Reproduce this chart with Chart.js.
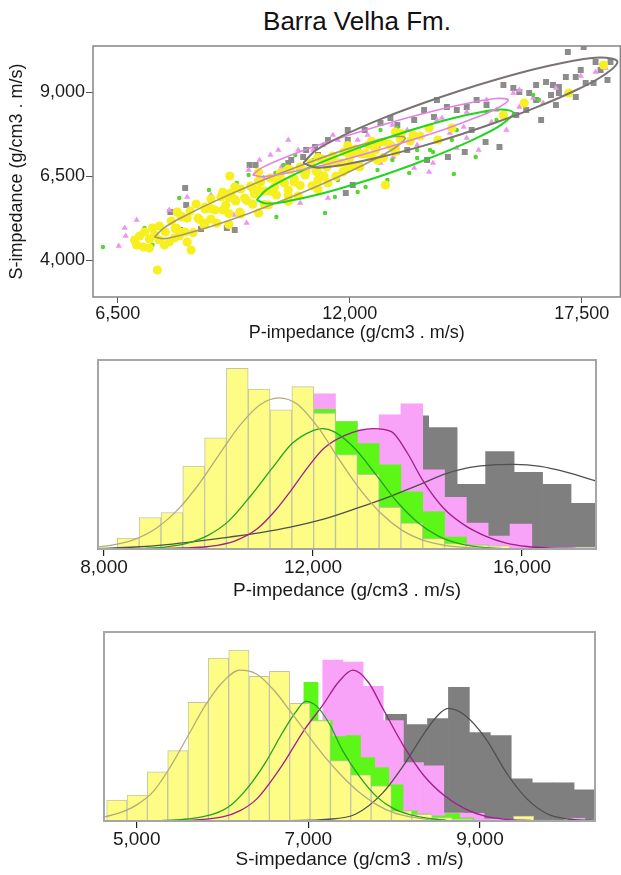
<!DOCTYPE html>
<html>
<head>
<meta charset="utf-8">
<script src="https://cdn.jsdelivr.net/npm/chart.js@4.4.1/dist/chart.umd.min.js"></script>
<style>
  html, body { margin: 0; padding: 0; background: #fff; overflow: hidden; }
  #wrap { position: relative; width: 621px; height: 875px; overflow: hidden; }
  canvas { position: absolute; left: 0; }
  #title { position: absolute; left: 93px; width: 528px; top: 6px; text-align: center;
           font: 26px "Liberation Sans", Arial, sans-serif; color: #111; }
</style>
</head>
<body>
<div id="wrap">
  <div id="title">Barra Velha Fm.</div>
  <canvas id="scatter" width="625" height="350" style="top:0"></canvas>
  <canvas id="histP" width="621" height="260" style="top:350px"></canvas>
  <canvas id="histS" width="621" height="265" style="top:610px"></canvas>
</div>
<script>
// ---------- crossplot (top) : [P-impedance, S-impedance] ----------
const yellowPts = [[6899,4597],[7016,4716],[6946,4448],[7134,4835],[7251,4626],[7110,4388],[7322,4954],[7486,5013],[7627,4835],[7768,5162],[7886,4954],[7439,3704],[8144,4537],[8238,4299],[8027,5281],[8215,5460],[8403,5251],[8356,5668],[8567,5519],[8708,5817],[8802,5489],[8943,5876],[9061,5638],[9178,5995],[9296,5757],[9413,6114],[9507,5847],[9648,6204],[9742,5966],[9883,6323],[9977,6055],[10118,6442],[10212,6174],[10353,6591],[10447,6293],[10588,6680],[10682,6412],[10823,6769],[10941,6531],[11082,6888],[11199,6650],[11340,7007],[11458,6769],[11599,7096],[11716,6888],[11857,7215],[11998,7037],[12139,7305],[12280,7156],[12445,7424],[12609,7275],[12797,7513],[12985,7394],[13197,7602],[13432,7543],[13667,7692],[13878,7930],[12844,6233],[11481,6293],[9155,6501],[15641,8317],[16134,8674],[17192,8971],[18014,9805],[14419,7930],[14090,7573],[12233,6799],[11834,6620],[10071,5638],[10776,5906],[9390,5430],[8708,5222],[7909,5430],[8544,5043],[8097,4835],[9836,6620],[10541,6085],[11246,6382],[12069,6799],[9272,6174],[8990,6025],[12656,6977],[13079,7215],
  [8003,5299],[8567,5579],[9131,5858],[9695,6138],[10259,6415],[10823,6695],[11387,6974],[11951,7254],[12515,7534],[13079,7811],
  [7721,4537],[8285,4814],[8849,5094],[9413,5373],[9977,5650],[10541,5930],[11105,6210],[11669,6489],[12233,6769],[12797,7049],
  [7862,4933],[8426,5213],[8990,5489],[9554,5769],[10118,6049],[10682,6326],[11246,6605],[11810,6885],[12374,7165],[12938,7445],[13502,7721],
  [7251,4359],[7486,4597],[7604,4448],[7956,4716],
  [8144,5248],[8708,5528],[9272,5808],[9836,6088],[10400,6367],[10964,6647],[11528,6924],[12092,7204],[12656,7483],[13220,7763],
  [8003,4823],[8567,5103],[9131,5382],[9695,5662],[10259,5939],[10823,6219],[11387,6498],[11951,6778],[12515,7058],[13079,7335],
  [9836,6355],[10541,6704],[11246,7052],[11951,7403],
  [9131,5055],[9836,5403],[10541,5751],[11246,6099],
  [7369,4745],[7839,4656]];
const pinkPts = [[6523,4418],[6664,4954],[6946,5192],[6687,4716],[7721,5489],[8144,5876],[8708,5936],[8943,6025],[9554,5103],[10118,7126],[10377,6769],[10823,5698],[11481,5847],[10541,7573],[13878,6620],[15053,7275],[16017,9061],[16017,8555],[16346,8823],[17826,9596],[18061,9715],[16581,8674],[15876,8971],[15476,8465],[14701,7959],[14372,7781],[13126,7186],[12727,6888],[13526,6739],[12351,7186],[9860,6977],[11716,7573],[11904,7275],[13032,7067],[13972,6888],[11129,7275],[11364,7424],[12186,7573],[13361,7870],[14066,8168],[14771,8406],[15241,8763],[16886,9120],[17474,9477],[9249,5341],[9954,6442],[14536,7335],
  [10776,7275],[11599,7721],[12421,7721],[13009,8019],[13596,7424],[14184,8227],[14771,7632],[15359,8108],[15711,7870],[10306,7275],[9601,6680]];
const greenPts = [[6147,4388],[7322,4448],[7956,5847],[8191,5400],[10259,5281],[11411,5400],[9084,5579],[9319,6293],[10706,7126],[10236,6591],[14466,6561],[14983,7067],[12374,6174],[11646,5876],[13972,7215],[13408,6591],[13902,7275],[15241,8406],[16346,8912],[16487,8763],[12727,7870],[13126,7930],[12186,6025],[10071,6085],[11246,6531],[11951,6680],[10776,6233],[13009,6977],[14419,7573],[11129,6977],[9601,6531],[13596,7037],[7134,4954],[8661,6085],
  [10424,6829],[11716,6382],[12656,6680],[13596,7275],[14536,7870],[15476,8168],[12891,6382]];
const grayPts = [[8097,6144],[7745,5430],[7980,4894],[8473,4924],[9272,4894],[9084,4954],[9625,6829],[9766,6829],[10612,6977],[10894,7067],[11904,5995],[14325,7067],[15547,7364],[15218,7513],[8121,5638],[10541,6888],[10964,7275],[11176,7364],[11481,7573],[11951,7573],[12069,6233],[17168,10191],[17544,10340],[15876,9120],[16017,9001],[16252,8971],[16416,9209],[16651,9299],[16816,9209],[16957,9150],[17121,9447],[17356,9447],[17474,9656],[17591,9269],[17779,9269],[17944,9656],[18108,9358],[17356,8852],[16957,8971],[14724,7215],[15641,9209],[15241,8614],[14771,8555],[14301,8555],[14066,8763],[13761,8465],[13526,8168],[13996,8257],[12962,8227],[12727,8079],[12351,7870],[11951,7870],[17826,9894],[18179,9894],[16181,8465],[14889,7870],[13361,7275],[12656,7424],[16416,8763],[16769,8912],
  [11246,7126],[12186,7275],[13126,8019],[14536,8465],[15006,8763],[15946,8317],[16534,8168],[13831,6977],[16886,8614]];

// outlines of the class ellipses, read around the picture
const ellYellow = [[7369,4686],[7604,4966],[8074,5305],[8779,5739],[9602,6198],[10354,6582],[11129,6951],[11952,7308],[12657,7567],[13080,7677],[13315,7632],[13080,7349],[12657,7043],[11952,6605],[11129,6147],[10354,5748],[9602,5388],[8779,5031],[8074,4769],[7604,4638],[7369,4686]];
const ellGreen = [[9790,5787],[10025,6091],[10542,6457],[11364,6927],[12187,7332],[12892,7641],[13597,7924],[14419,8215],[15124,8406],[15594,8483],[15876,8376],[15594,8031],[15124,7704],[14419,7299],[13597,6888],[12892,6570],[12187,6284],[11364,5986],[10542,5754],[10025,5680],[9790,5787]];
const ellPink = [[9696,6534],[9931,6757],[10448,7046],[11247,7415],[11952,7706],[12727,8004],[13479,8269],[14302,8531],[15007,8718],[15477,8808],[15759,8760],[15477,8504],[15007,8248],[14302,7918],[13479,7579],[12727,7290],[11952,7016],[11247,6790],[10448,6576],[9931,6483],[9696,6534]];
const ellGray = [[10894,6885],[11200,7269],[11834,7701],[12774,8215],[13714,8659],[14607,9040],[15477,9373],[16417,9691],[17239,9915],[17944,10031],[18344,9897],[17944,9441],[17239,8986],[16417,8543],[15477,8099],[14607,7730],[13714,7391],[12774,7079],[11834,6832],[11200,6751],[10894,6885]];

const topXTicks = [6500, 12000, 17500];
const topYTicks = [4000, 6500, 9000];

// ---------- P-impedance histogram ----------
const pBinX = [8046,8464,8881,9299,9716,10134,10551,10969,11386,11804,12221,12639,13056,13474,13891,14309,14726,15144,15561,15979,16396,16814,17231];
const pYellow = [1,11,31.7,36.7,83.3,111.7,181.7,160.7,140,163.3,136.7,95,75,42,26,10.5,5.5,4,3.3,0,1.3,0,2];
const pGreen = [1,0.5,2,6,14,28,50,80,105,125,140.5,128,106,84.5,57.5,37.5,12,4,1,0,0,0,0];
const pPink = [0,0,0,0,1,3,10,25,50,95,156,128,120,135,146,79.5,52,26,13,25,1.3,1.3,0.5];
const pGrayBinX = [8491,9036,9581,10126,10671,11216,11761,12306,12851,13396,13941,14486,15031,15576,16121,16666,17211];
const pGray = [0.5,1,2,3,5,8,15,25,40,60,134,122,65,98,77,65,46];

const pCurveYellowX = [7800,8200,8600,9000,9400,9800,10200,10600,11000,11350,11700,12100,12500,12900,13300,13700,14100,14500,14900,15300,15700];
const pCurveYellowY = [1.6,4.3,10,20.9,38.8,64.1,94.5,124.2,145.5,152,145.5,122,90,60,36,19,9,4,1.6,0.6,0.2];
const pCurveGreenX = [8000,8400,8800,9200,9600,10000,10400,10800,11200,11600,12000,12180,12400,12800,13200,13600,14000,14400,14800,15200,15600];
const pCurveGreenY = [0.1,0.2,0.7,2.2,5.9,14,28.8,53,80,106,119,121,118,101,75,48,27,13,5.4,1.9,0.6];
const pCurveMagX = [9000,9500,10000,10500,10926,11300,11567,11900,12203,12600,13150,13500,13800,14100,14500,14900,15300,15700,16100,16500,17000];
const pCurveMagY = [0.5,1,2.5,8,20,40,58,82,101,114,121,118,97,69,41,24,13,6,2.5,1,0.3];
const pCurveGrayX = [7900,8600,9200,9800,10400,11000,11567,12203,12841,13479,14096,14502,14914,15331,15840,16352,16864,17438];
const pCurveGrayY = [0.3,2,4.5,8,12,16.5,22,30,41,53,66,75,81,84,85,83,77,68];
const pTicks = [8000, 12000, 16000];

// ---------- S-impedance histogram ----------
const sBinX = [4769,5006,5243,5480,5717,5954,6191,6428,6665,6902,7139,7376,7613,7850,8087,8324,8561,8798,9035,9272,9509,9746,9983,10220];
const sYellow = [20.7,25.7,49,70,118,162,170,144,149,117,100,60,46,35,10,6.7,3.3,2,0,0,5,1,0,0];
const sGreenBinX = [5546,5711,5876,6041,6206,6371,6536,6701,6866,7031,7196,7361,7526,7691,7856,8021,8186,8351,8516,8681,8846,9011];
const sGreen = [1,2,5,12,25,45,70,90,110,138,100,84,85,63,53,36,10,7,5,7.3,3,0.5];
const sPinkBinX = [5641,5876,6111,6346,6581,6816,7051,7286,7521,7756,7991,8226,8461,8696,8931,9166,9401,9636,9871,10106];
const sPink = [1,4,12,30,60,100,95,160,158,134,100,58,55,8,7.7,2,1.7,0.5,0.5,2.7];
const sGrayBinX = [6803,7047,7291,7535,7779,8023,8267,8511,8755,8999,9243,9487,9731,9975,10219];
const sGray = [3,8,20,40,70,106,96,102,133,88,85,42,38,38,31];

const sCurveYellowX = [4620,4800,5000,5200,5400,5600,5800,6000,6200,6400,6600,6800,7000,7200,7400,7600,7800,8000,8200,8400];
const sCurveYellowY = [4,8,16,30,55,85,115,138,150,146,130,108,85,63,44,28,16,8,4,1.5];
const sCurveGreenX = [5300,5600,5900,6100,6321,6500,6700,6850,6970,7100,7250,7400,7600,7800,8000,8200,8400,8600];
const sCurveGreenY = [0.5,2,7,16,36,58,88,108,119,114,96,70,44,24,12,6,2.5,1];
const sCurveMagX = [5600,6000,6200,6400,6700,6940,7175,7350,7520,7700,7868,8108,8348,8588,8828,9068,9308,9600];
const sCurveMagY = [0.5,4,10,22,56,89,116,138,150,138,112,75,45,25,12,4.5,1.7,0.5];
const sCurveGrayX = [6800,7200,7548,7868,8108,8348,8508,8628,8828,9068,9308,9548,9788,10028,10300];
const sCurveGrayY = [0.3,1.5,6.7,28,55,87,105,112,105,82,48,22,7,2,0.5];
const sTicks = [5000, 7000, 9000];

// ------------------------------------------------------------------
Chart.defaults.font.family = '"Liberation Sans", Arial, sans-serif';
Chart.defaults.color = '#1a1a1a';

const toXY = pts => pts.map(p => ({ x: p[0], y: p[1] }));
const pair = (xs, ys) => xs.map((x, i) => ({ x: x, y: ys[i] }));
const fixTicks = vals => scale => { scale.ticks = vals.map(v => ({ value: v })); };
const endTicks = scale => { scale.ticks = [{ value: scale.min }, { value: scale.max }]; };

// box around the plotting area
const frame = {
    id: 'frame',
    afterDraw(chart, args, opts) {
        const a = chart.chartArea, ctx = chart.ctx;
        ctx.save();
        ctx.strokeStyle = opts.color;
        ctx.lineWidth = opts.width;
        ctx.strokeRect(a.left, a.top, a.right - a.left, a.bottom - a.top);
        ctx.restore();
    }
};

const ellipse = (pts, color, width) => ({
    data: toXY(pts), showLine: true, borderColor: color, borderWidth: width,
    pointRadius: 0, tension: 0.35, fill: false, order: 0
});
const cloud = (pts, color, style, r, order) => ({
    data: toXY(pts), backgroundColor: color, pointStyle: style, pointRadius: r,
    borderWidth: 0, pointBorderWidth: 0, order: order
});

new Chart(document.getElementById('scatter'), {
    type: 'scatter',
    data: {
        datasets: [
            ellipse(ellGray, '#7b7272', 2),
            ellipse(ellPink, '#e283e2', 1.6),
            ellipse(ellGreen, '#1fd61f', 2),
            ellipse(ellYellow, '#a99a6a', 1.6),
            cloud(yellowPts, '#f7ef1e', 'circle', 4.6, 1),
            cloud(greenPts, '#52d82c', 'circle', 2.2, 2),
            cloud(pinkPts, '#ef93ef', 'triangle', 3.6, 3),
            cloud(grayPts, '#8c8c8c', 'rect', 4.2, 4)
        ]
    },
    options: {
        responsive: false,
        animation: false,
        devicePixelRatio: 1,
        layout: { padding: { top: 46, left: 0, right: 0, bottom: 0 } },
        plugins: {
            legend: { display: false },
            tooltip: { enabled: false },
            frame: { color: '#858585', width: 1.5 }
        },
        scales: {
            x: {
                type: 'linear', min: 5912, max: 18414,
                afterBuildTicks: fixTicks(topXTicks),
                afterFit: s => { s.height = 53; },
                grid: { drawOnChartArea: false, tickLength: 6, color: '#555' },
                border: { display: false },
                ticks: { font: { size: 18 }, padding: 0, maxRotation: 0 },
                title: { display: true, text: 'P-impedance (g/cm3 . m/s)', font: { size: 18 }, padding: { top: 0, bottom: 6 } }
            },
            y: {
                type: 'linear', min: 2900, max: 10370,
                afterBuildTicks: fixTicks(topYTicks),
                afterFit: s => { s.width = 93; },
                grid: { drawOnChartArea: false, tickLength: 7, color: '#555' },
                border: { display: false },
                ticks: { font: { size: 18 }, padding: 1 },
                title: { display: true, text: 'S-impedance (g/cm3 . m/s)', font: { size: 18 }, padding: { top: 6, bottom: 0 } }
            }
        }
    },
    plugins: [frame]
});

// one histogram panel: bars for each class plus the fitted curves
function makeHist(id, cfg) {
    const bars = (axis, xs, ys, color, order, border) => ({
        type: 'bar', xAxisID: axis, data: pair(xs, ys), backgroundColor: color,
        borderColor: border || color, borderWidth: border ? 1 : 0,
        grouped: false, categoryPercentage: 1, barPercentage: 1, order: order
    });
    const curve = (xs, ys, color) => ({
        type: 'line', xAxisID: 'x', data: pair(xs, ys), borderColor: color, borderWidth: 1.3,
        pointRadius: 0, cubicInterpolationMode: 'monotone', fill: false, order: 0
    });
    const hidden = { type: 'linear', display: false, offset: false, min: cfg.min, max: cfg.max, afterBuildTicks: endTicks };

    return new Chart(document.getElementById(id), {
        type: 'bar',
        data: {
            datasets: [
                curve(cfg.curves.yellow[0], cfg.curves.yellow[1], '#b3ab7c'),
                curve(cfg.curves.green[0], cfg.curves.green[1], '#21a321'),
                curve(cfg.curves.mag[0], cfg.curves.mag[1], '#a11d8e'),
                curve(cfg.curves.gray[0], cfg.curves.gray[1], '#4f4f4f'),
                bars('x', cfg.yellow[0], cfg.yellow[1], '#fdfd86', 1, '#c4c4aa'),
                bars(cfg.green[2], cfg.green[0], cfg.green[1], '#5cf716', 2),
                bars(cfg.pink[2], cfg.pink[0], cfg.pink[1], '#f8a2f8', 3),
                bars('xk', cfg.gray[0], cfg.gray[1], '#7f7f7f', 4)
            ]
        },
        options: {
            responsive: false,
            animation: false,
            devicePixelRatio: 1,
            layout: { padding: cfg.padding },
            plugins: {
                legend: { display: false },
                tooltip: { enabled: false },
                frame: { color: '#a6a6a6', width: 2 }
            },
            scales: {
                x: {
                    type: 'linear', min: cfg.min, max: cfg.max, offset: false,
                    afterBuildTicks: fixTicks(cfg.ticks),
                    afterFit: s => { s.height = cfg.axisHeight; },
                    grid: { drawOnChartArea: false, offset: false, tickLength: 7, color: '#222', lineWidth: 1.2 },
                    border: { display: false },
                    ticks: { font: { size: 19 }, padding: 0, maxRotation: 0 },
                    title: { display: true, text: cfg.title, font: { size: 19 }, padding: { top: 0, bottom: cfg.titlePad } }
                },
                xg: hidden,
                xp: hidden,
                xk: hidden,
                y: { display: false, min: 0, max: cfg.ymax }
            }
        },
        plugins: [frame]
    });
}

makeHist('histP', {
    min: 7885, max: 17416, ymax: 190, ticks: pTicks,
    padding: { top: 10, left: 98, right: 25, bottom: 0 },
    axisHeight: 61, titlePad: 8,
    title: 'P-impedance (g/cm3 . m/s)',
    yellow: [pBinX, pYellow],
    green: [pBinX, pGreen, 'x'],
    pink: [pBinX, pPink, 'x'],
    gray: [pGrayBinX, pGray],
    curves: {
        yellow: [pCurveYellowX, pCurveYellowY],
        green: [pCurveGreenX, pCurveGreenY],
        mag: [pCurveMagX, pCurveMagY],
        gray: [pCurveGrayX, pCurveGrayY]
    }
});

makeHist('histS', {
    min: 4619, max: 10341, ymax: 188, ticks: sTicks,
    padding: { top: 22, left: 104, right: 26, bottom: 0 },
    axisHeight: 54, titlePad: 4,
    title: 'S-impedance (g/cm3 . m/s)',
    yellow: [sBinX, sYellow],
    green: [sGreenBinX, sGreen, 'xg'],
    pink: [sPinkBinX, sPink, 'xp'],
    gray: [sGrayBinX, sGray],
    curves: {
        yellow: [sCurveYellowX, sCurveYellowY],
        green: [sCurveGreenX, sCurveGreenY],
        mag: [sCurveMagX, sCurveMagY],
        gray: [sCurveGrayX, sCurveGrayY]
    }
});
</script>
</body>
</html>
